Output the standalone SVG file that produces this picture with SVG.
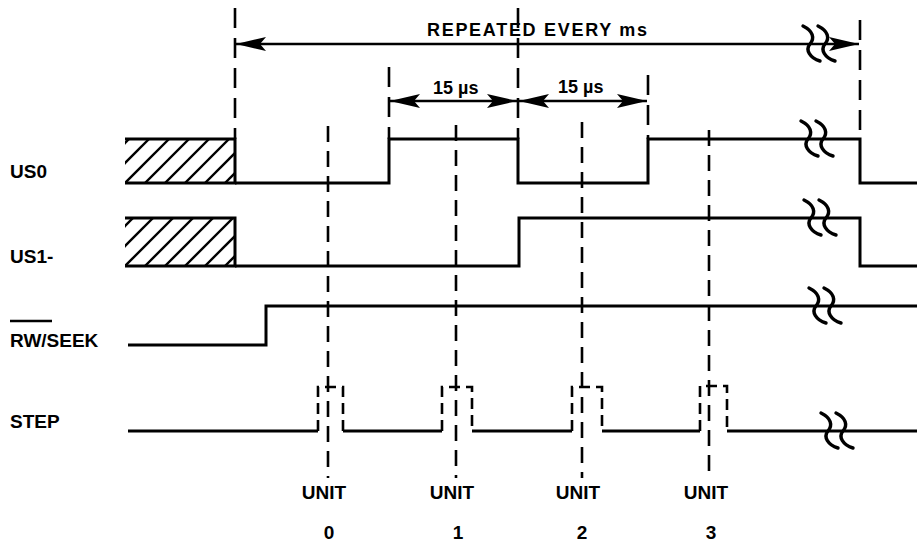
<svg xmlns="http://www.w3.org/2000/svg" xmlns:xlink="http://www.w3.org/1999/xlink" width="917" height="542" viewBox="0 0 917 542">
<style>
.sig{fill:none;stroke:#000;stroke-width:3;stroke-linejoin:miter;stroke-linecap:butt}
.dash{fill:none;stroke:#000;stroke-width:2.6;stroke-dasharray:20 10}
.udash{fill:none;stroke:#000;stroke-width:2.6;stroke-dasharray:16 9}
.pdash{fill:none;stroke:#000;stroke-width:2.6;stroke-dasharray:11 6}
.dim{fill:none;stroke:#000;stroke-width:2.4}
.hatch{fill:none;stroke:#000;stroke-width:2.4}
.brk{fill:none;stroke:#000;stroke-width:3.4;stroke-linecap:round}
.lbl{font-family:"Liberation Sans",Arial,sans-serif;font-weight:bold;font-size:19px;fill:#000}
.sm{font-family:"Liberation Sans",Arial,sans-serif;font-weight:bold;font-size:18px;fill:#000}
.num{font-family:"Liberation Sans",Arial,sans-serif;font-weight:bold;font-size:19px;fill:#000}
</style>
<defs>
<marker id="arr" viewBox="-1 -8 33 16" refX="30" refY="0" markerWidth="33" markerHeight="16" markerUnits="userSpaceOnUse" orient="auto-start-reverse">
<path d="M0,-7 L30,0 L0,7 L6,0 z" fill="#000"/>
</marker>
<g id="brk">
<path class="brk" d="M-5,-18 C5,-13 7,-6 2,0 C-3,6 2,14 12,17"/>
<path class="brk" d="M10,-18 C20,-13 22,-6 17,0 C12,6 17,14 27,17"/>
</g>
<clipPath id="c0"><rect x="125" y="139" width="110" height="44"/></clipPath>
<clipPath id="c1"><rect x="125" y="218" width="110" height="48"/></clipPath>
</defs>

<g id="labels">
<text class="lbl" x="10" y="178">US0</text>
<text class="lbl" x="10" y="263">US1-</text>
<line x1="10" y1="321" x2="52" y2="321" stroke="#000" stroke-width="2.6"/>
<text class="lbl" x="10" y="347">RW/SEEK</text>
<text class="lbl" x="10" y="428">STEP</text>
</g>

<g id="connectors">
<line class="dash" x1="235" y1="8" x2="235" y2="139"/>
<line class="dash" x1="389" y1="67" x2="389" y2="139"/>
<line class="dash" x1="518" y1="8" x2="518" y2="139"/>
<line class="dash" x1="648" y1="75" x2="648" y2="139"/>
<line class="dash" x1="860" y1="20" x2="860" y2="139"/>
<line class="udash" x1="328" y1="126" x2="328" y2="478"/>
<line class="udash" x1="456" y1="125" x2="456" y2="478"/>
<line class="udash" x1="582" y1="122" x2="582" y2="478"/>
<line class="udash" x1="709" y1="130" x2="709" y2="478"/>
<line class="dim" x1="236" y1="44" x2="859" y2="44" marker-start="url(#arr)" marker-end="url(#arr)"/>
<line class="dim" x1="390" y1="101" x2="517" y2="101" marker-start="url(#arr)" marker-end="url(#arr)"/>
<line class="dim" x1="519" y1="101" x2="647" y2="101" marker-start="url(#arr)" marker-end="url(#arr)"/>
<use xlink:href="#brk" x="808" y="44"/>
</g>

<g id="dimlabels">
<text class="sm" x="427" y="36" textLength="220" lengthAdjust="spacing">REPEATED EVERY ms</text>
<text class="sm" x="433" y="94">15 µs</text>
<text class="sm" x="558" y="93">15 µs</text>
</g>

<g id="us0">
<g clip-path="url(#c0)" class="hatch">
<line x1="85" y1="183" x2="129" y2="139"/>
<line x1="105" y1="183" x2="149" y2="139"/>
<line x1="125" y1="183" x2="169" y2="139"/>
<line x1="145" y1="183" x2="189" y2="139"/>
<line x1="165" y1="183" x2="209" y2="139"/>
<line x1="185" y1="183" x2="229" y2="139"/>
<line x1="205" y1="183" x2="249" y2="139"/>
<line x1="225" y1="183" x2="269" y2="139"/>
</g>
<path class="sig" d="M125,139 H235 V183 H125"/>
<path class="sig" d="M235,183 H389 V139 H518 V183 H648 V139 H860 V183 H917"/>
<use xlink:href="#brk" x="806" y="139"/>
</g>

<g id="us1">
<g clip-path="url(#c1)" class="hatch">
<line x1="85" y1="266" x2="133" y2="218"/>
<line x1="105" y1="266" x2="153" y2="218"/>
<line x1="125" y1="266" x2="173" y2="218"/>
<line x1="145" y1="266" x2="193" y2="218"/>
<line x1="165" y1="266" x2="213" y2="218"/>
<line x1="185" y1="266" x2="233" y2="218"/>
<line x1="205" y1="266" x2="253" y2="218"/>
<line x1="225" y1="266" x2="273" y2="218"/>
</g>
<path class="sig" d="M125,218 H235 V266 H125"/>
<path class="sig" d="M235,266 H519 V218 H860 V266 H917"/>
<use xlink:href="#brk" x="809" y="218"/>
</g>

<g id="rwseek">
<path class="sig" d="M128,345 H266 V306 H917"/>
<use xlink:href="#brk" x="814" y="306"/>
</g>

<g id="step">
<path class="sig" d="M128,431 H318"/>
<path class="sig" d="M343,431 H442"/>
<path class="sig" d="M472,431 H572"/>
<path class="sig" d="M602,431 H700"/>
<path class="sig" d="M727,431 H917"/>
<path class="pdash" d="M318,431 V387 H343 V431"/>
<path class="pdash" d="M442,431 V387 H472 V431"/>
<path class="pdash" d="M572,431 V387 H602 V431"/>
<path class="pdash" d="M700,431 V386 H727 V431"/>
<use xlink:href="#brk" x="826" y="431"/>
</g>

<g id="units">
<text class="lbl" x="324" y="499" text-anchor="middle">UNIT</text>
<text class="lbl" x="452" y="499" text-anchor="middle">UNIT</text>
<text class="lbl" x="578" y="499" text-anchor="middle">UNIT</text>
<text class="lbl" x="706" y="499" text-anchor="middle">UNIT</text>
<text class="num" x="329" y="539" text-anchor="middle">0</text>
<text class="num" x="458" y="539" text-anchor="middle">1</text>
<text class="num" x="582" y="539" text-anchor="middle">2</text>
<text class="num" x="711" y="539" text-anchor="middle">3</text>
</g>
</svg>
